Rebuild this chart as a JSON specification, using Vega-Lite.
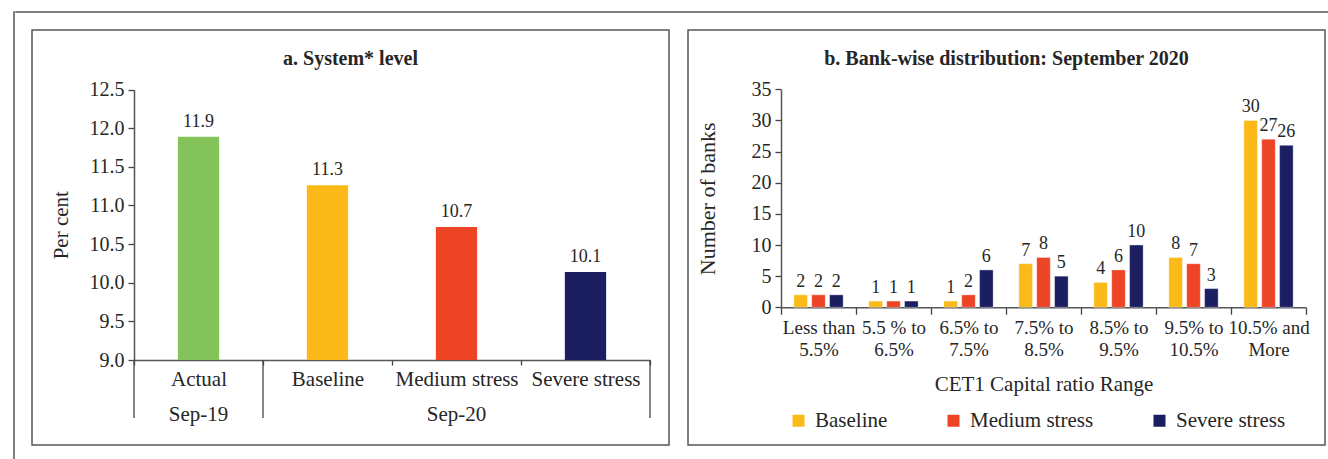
{
  "$schema": "https://vega.github.io/schema/vega-lite/v6.json",
  "padding": {"left": 13, "top": 11, "right": 0, "bottom": 0},
  "background": "white",
  "config": {
    "font": "Liberation Serif",
    "view": {"stroke": null},
    "axis": {
      "grid": false,
      "labelColor": "#262626",
      "titleColor": "#262626",
      "labelFont": "Liberation Serif",
      "titleFont": "Liberation Serif",
      "titleFontWeight": "normal",
      "titleFontSize": 21,
      "labelFontSize": 20,
      "domainColor": "#555555",
      "domainWidth": 1.5,
      "tickColor": "#444444",
      "tickWidth": 1.3
    },
    "title": {"font": "Liberation Serif", "fontSize": 20, "fontWeight": "bold", "color": "#262626"},
    "legend": {"labelFont": "Liberation Serif", "labelColor": "#262626"}
  },
  "datasets": {
    "system": [
      {"scenario": "Actual", "value": 11.89},
      {"scenario": "Baseline", "value": 11.26},
      {"scenario": "Medium stress", "value": 10.72},
      {"scenario": "Severe stress", "value": 10.14}
    ],
    "periods": [
      {"scenario": "Actual", "period": "Sep-19"},
      {"scenario": "Medium stress", "period": "Sep-20"}
    ],
    "banks": [
      {"range": "Less than 5.5%", "scenario": "Baseline", "count": 2},
      {"range": "Less than 5.5%", "scenario": "Medium stress", "count": 2},
      {"range": "Less than 5.5%", "scenario": "Severe stress", "count": 2},
      {"range": "5.5 % to 6.5%", "scenario": "Baseline", "count": 1},
      {"range": "5.5 % to 6.5%", "scenario": "Medium stress", "count": 1},
      {"range": "5.5 % to 6.5%", "scenario": "Severe stress", "count": 1},
      {"range": "6.5% to 7.5%", "scenario": "Baseline", "count": 1},
      {"range": "6.5% to 7.5%", "scenario": "Medium stress", "count": 2},
      {"range": "6.5% to 7.5%", "scenario": "Severe stress", "count": 6},
      {"range": "7.5% to 8.5%", "scenario": "Baseline", "count": 7},
      {"range": "7.5% to 8.5%", "scenario": "Medium stress", "count": 8},
      {"range": "7.5% to 8.5%", "scenario": "Severe stress", "count": 5},
      {"range": "8.5% to 9.5%", "scenario": "Baseline", "count": 4},
      {"range": "8.5% to 9.5%", "scenario": "Medium stress", "count": 6},
      {"range": "8.5% to 9.5%", "scenario": "Severe stress", "count": 10},
      {"range": "9.5% to 10.5%", "scenario": "Baseline", "count": 8},
      {"range": "9.5% to 10.5%", "scenario": "Medium stress", "count": 7},
      {"range": "9.5% to 10.5%", "scenario": "Severe stress", "count": 3},
      {"range": "10.5% and More", "scenario": "Baseline", "count": 30},
      {"range": "10.5% and More", "scenario": "Medium stress", "count": 27},
      {"range": "10.5% and More", "scenario": "Severe stress", "count": 26}
    ]
  },
  "spacing": 0,
  "hconcat": [
    {
      "width": 0.01,
      "height": 448,
      "view": {"stroke": "#555555", "strokeWidth": 1.5},
      "data": {"values": []},
      "mark": "rect",
      "encoding": {}
    },
    {
      "spacing": 16,
      "vconcat": [
        {
          "width": 1315,
          "height": 0.01,
          "view": {"stroke": "#555555", "strokeWidth": 1.5},
          "data": {"values": []},
          "mark": "rect",
          "encoding": {}
        },
        {
          "spacing": 14,
          "resolve": {"scale": {"color": "independent"}, "legend": {"color": "independent"}},
          "hconcat": [
            {
              "width": 0.01,
              "height": 0.01,
              "data": {"values": []},
              "mark": "rect",
              "encoding": {}
            },
            {
              "spacing": 17,
              "resolve": {"scale": {"color": "independent"}, "legend": {"color": "independent"}},
              "hconcat": [
                {
                  "width": 637,
                  "height": 415,
                  "view": {"stroke": "#555555", "strokeWidth": 1.5},
                  "title": {"text": "a. System* level", "offset": -39},
                  "layer": [
                    {
                      "data": {"name": "system"},
                      "mark": {"type": "bar", "width": {"band": 0.32}},
                      "encoding": {
                        "x": {
                          "field": "scenario",
                          "type": "nominal",
                          "sort": ["Actual", "Baseline", "Medium stress", "Severe stress"],
                          "scale": {"range": [102, 618], "paddingInner": 0, "paddingOuter": 0},
                          "axis": {
                            "title": null,
                            "orient": "bottom",
                            "offset": -85,
                            "labelAngle": 0,
                            "tickBand": "extent",
                            "tickSize": 5,
                            "labelPadding": 3,
                            "labelFontSize": 21
                          }
                        },
                        "y": {
                          "field": "value",
                          "type": "quantitative",
                          "scale": {"domain": [9, 12.5], "range": [330, 59.5], "nice": false, "zero": false},
                          "axis": {
                            "title": "Per cent",
                            "offset": -102,
                            "values": [9, 9.5, 10, 10.5, 11, 11.5, 12, 12.5],
                            "format": ".1f",
                            "tickSize": 6,
                            "labelPadding": 4,
                            "titlePadding": 18
                          }
                        },
                        "y2": {"datum": 9},
                        "color": {
                          "field": "scenario",
                          "type": "nominal",
                          "scale": {
                            "domain": ["Actual", "Baseline", "Medium stress", "Severe stress"],
                            "range": ["#84C35A", "#FBBA18", "#EE4426", "#1B1F61"]
                          },
                          "legend": null
                        }
                      }
                    },
                    {
                      "data": {"name": "system"},
                      "mark": {"type": "text", "baseline": "alphabetic", "dy": -10, "fontSize": 18, "color": "#262626"},
                      "encoding": {
                        "x": {"field": "scenario", "type": "nominal", "sort": ["Actual", "Baseline", "Medium stress", "Severe stress"]},
                        "y": {"field": "value", "type": "quantitative"},
                        "text": {"field": "value", "type": "quantitative", "format": ".1f"}
                      }
                    },
                    {
                      "data": {"name": "periods"},
                      "mark": {"type": "text", "baseline": "middle", "fontSize": 21, "color": "#262626"},
                      "encoding": {
                        "x": {"field": "scenario", "type": "nominal"},
                        "y": {"datum": 8.29, "type": "quantitative"},
                        "text": {"field": "period", "type": "nominal"}
                      }
                    },
                    {
                      "data": {"values": [{"scenario": "Actual"}, {"scenario": "Baseline"}]},
                      "mark": {"type": "rule", "color": "#444444", "strokeWidth": 1.3},
                      "encoding": {
                        "x": {"field": "scenario", "type": "nominal", "bandPosition": 0},
                        "y": {"datum": 9, "type": "quantitative"},
                        "y2": {"datum": 8.25}
                      }
                    },
                    {
                      "data": {"values": [{"scenario": "Severe stress"}]},
                      "mark": {"type": "rule", "color": "#444444", "strokeWidth": 1.3},
                      "encoding": {
                        "x": {"field": "scenario", "type": "nominal", "bandPosition": 1},
                        "y": {"datum": 9, "type": "quantitative"},
                        "y2": {"datum": 8.25}
                      }
                    }
                  ]
                },
                {
                  "width": 637,
                  "height": 415,
                  "view": {"stroke": "#555555", "strokeWidth": 1.5},
                  "title": {"text": "b. Bank-wise distribution: September 2020", "offset": -39},
                  "data": {"name": "banks"},
                  "encoding": {
                    "x": {
                      "field": "range",
                      "type": "nominal",
                      "sort": ["Less than 5.5%", "5.5 % to 6.5%", "6.5% to 7.5%", "7.5% to 8.5%", "8.5% to 9.5%", "9.5% to 10.5%", "10.5% and More"],
                      "scale": {"range": [93, 618], "paddingInner": 0, "paddingOuter": 0},
                      "axis": {
                        "title": "CET1 Capital ratio Range",
                        "orient": "bottom",
                        "offset": -137.7,
                        "labelAngle": 0,
                        "tickBand": "extent",
                        "tickSize": 7,
                        "labelPadding": 4,
                        "labelFontSize": 19,
                        "labelLineHeight": 22,
                        "labelExpr": "[slice(datum.label, 0, lastindexof(datum.label, ' ')), slice(datum.label, lastindexof(datum.label, ' ') + 1)]",
                        "titlePadding": 14
                      }
                    },
                    "xOffset": {
                      "field": "scenario",
                      "type": "nominal",
                      "sort": ["Baseline", "Medium stress", "Severe stress"],
                      "scale": {"paddingInner": 0.24, "paddingOuter": 0.72}
                    },
                    "y": {
                      "field": "count",
                      "type": "quantitative",
                      "scale": {"domain": [0, 35], "range": [277.3, 59.3], "nice": false},
                      "axis": {
                        "title": "Number of banks",
                        "offset": -93,
                        "values": [0, 5, 10, 15, 20, 25, 30, 35],
                        "tickSize": 6,
                        "labelPadding": 4,
                        "titlePadding": 32,
                        "titleFontSize": 22
                      }
                    }
                  },
                  "layer": [
                    {
                      "mark": {"type": "bar", "stroke": "#ffffff", "strokeWidth": 0.8, "strokeOpacity": 0.45},
                      "encoding": {
                        "color": {
                          "field": "scenario",
                          "type": "nominal",
                          "sort": ["Baseline", "Medium stress", "Severe stress"],
                          "scale": {
                            "domain": ["Baseline", "Medium stress", "Severe stress"],
                            "range": ["#FBBA18", "#EE4426", "#1B1F61"]
                          },
                          "legend": {
                            "title": null,
                            "orient": "none",
                            "legendX": 100,
                            "legendY": 380,
                            "direction": "horizontal",
                            "columns": 3,
                            "columnPadding": 55,
                            "symbolType": "square",
                            "symbolSize": 144,
                            "symbolStrokeWidth": 0,
                            "labelFontSize": 21,
                            "labelOffset": 6
                          }
                        }
                      }
                    },
                    {
                      "mark": {"type": "text", "baseline": "alphabetic", "dy": -8, "fontSize": 18, "color": "#262626"},
                      "encoding": {
                        "text": {"field": "count", "type": "quantitative"}
                      }
                    }
                  ]
                }
              ]
            }
          ]
        }
      ]
    }
  ]
}
